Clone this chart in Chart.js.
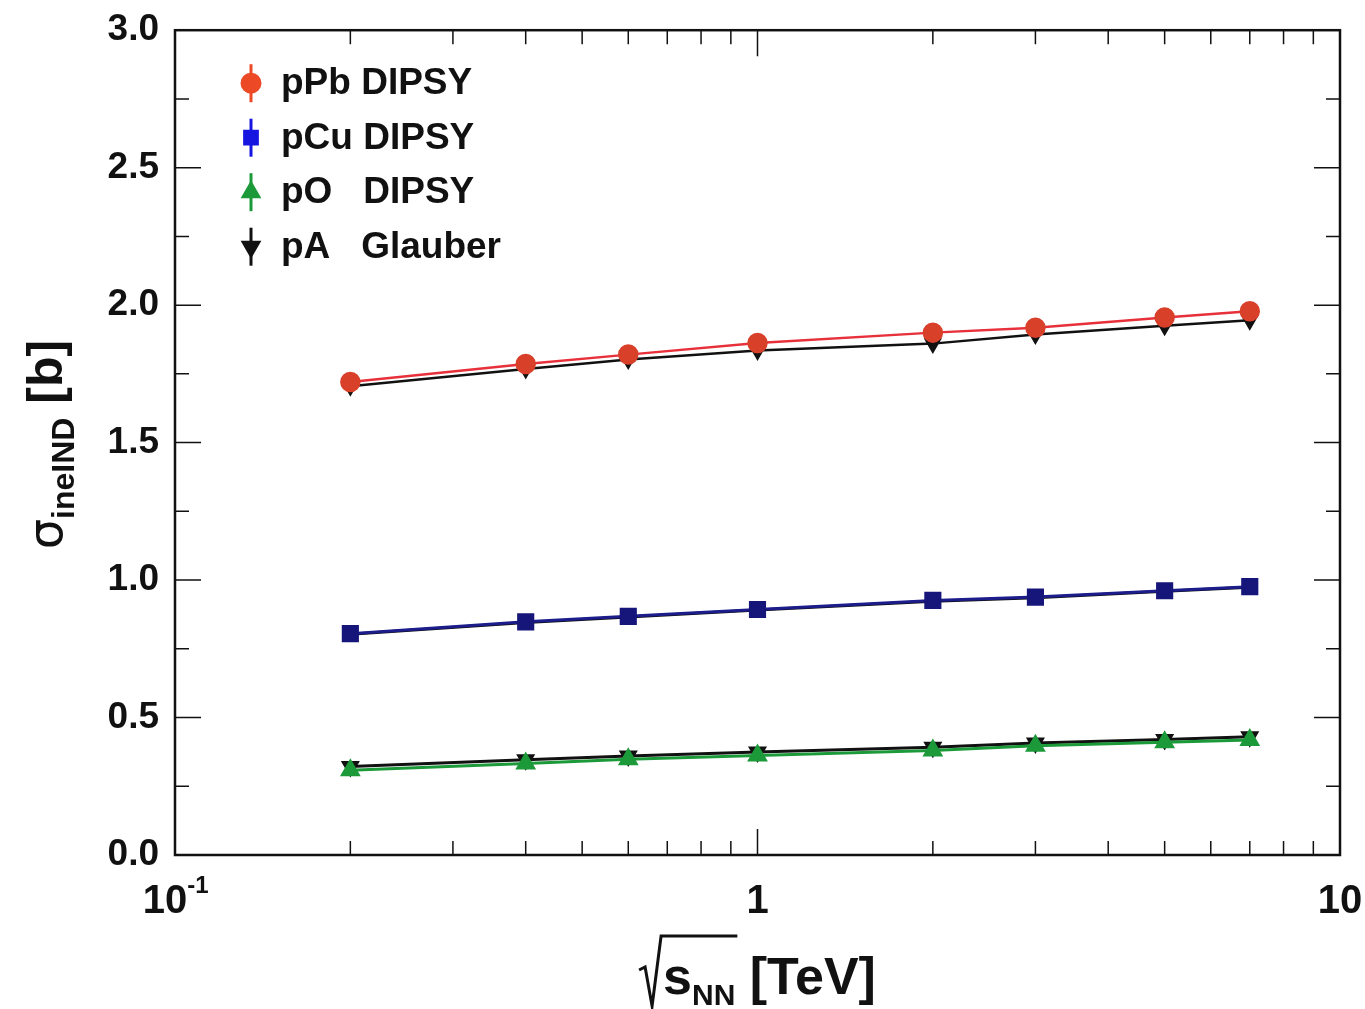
<!DOCTYPE html>
<html>
<head>
<meta charset="utf-8">
<title>Inelastic non-diffractive pA cross section</title>
<script src="https://cdn.jsdelivr.net/npm/chart.js@4.4.0/dist/chart.umd.min.js"></script>
<style>
  body { margin: 0; background: #fff; }
  #wrap { width: 1365px; height: 1009px; }
</style>
</head>
<body>
<div id="wrap"><canvas id="sigmaChart" width="1365" height="1009"></canvas></div>
<script>
// collision energies sqrt(s_NN) in TeV
const energias = [0.2, 0.4, 0.6, 1, 2, 3, 5, 7];

// DIPSY results [b]
const pPbDipsy = [1.72, 1.786, 1.82, 1.862, 1.90, 1.918, 1.955, 1.978];
const pCuDipsy = [0.805, 0.848, 0.868, 0.893, 0.926, 0.938, 0.961, 0.976];
const pODipsy  = [0.308, 0.333, 0.348, 0.362, 0.38, 0.397, 0.41, 0.418];

// Glauber results [b]
const pPbGlauber = [1.705, 1.768, 1.802, 1.835, 1.86, 1.893, 1.925, 1.945];
const pCuGlauber = [0.803, 0.846, 0.866, 0.891, 0.923, 0.936, 0.959, 0.974];
const pOGlauber  = [0.322, 0.346, 0.36, 0.375, 0.392, 0.407, 0.42, 0.43];

// axis ticks
const xEtiquetas = [0.1, 1, 10];
const xMenores = [0.2, 0.3, 0.4, 0.5, 0.6, 0.7, 0.8, 0.9, 2, 3, 4, 5, 6, 7, 8, 9];
const yMayores = [0, 0.5, 1.0, 1.5, 2.0, 2.5, 3.0];
const yMenores = [0.25, 0.75, 1.25, 1.75, 2.25, 2.75];

const FUENTE = '"Liberation Sans", Arial, sans-serif';

const rojo = '#ec4a26';
const azul = '#1616e0';
const azulOscuro = '#16167a';
const verde = '#1c9a3a';

function puntos(valores) {
    return energias.map((e, i) => ({ x: e, y: valores[i] }));
}

function serie(label, valores, color, linea, estilo, radio, rot, ancho) {
    return {
        label: label,
        data: puntos(valores),
        borderColor: linea,
        backgroundColor: color,
        pointBackgroundColor: color,
        pointBorderColor: color,
        pointStyle: estilo,
        pointRadius: radio,
        pointRotation: rot || 0,
        borderWidth: ancho,
        tension: 0
    };
}

const datasets = [
    serie('pPb DIPSY', pPbDipsy, '#d8402a', '#e8303a', 'circle', 9, 0, 2.5),
    serie('pCu DIPSY', pCuDipsy, azulOscuro, '#1c1c8a', 'rect', 10, 0, 3),
    serie('pO DIPSY', pODipsy, verde, verde, 'triangle', 9, 0, 3),
    serie('pA Glauber', pPbGlauber, '#111', '#111', 'triangle', 8, 180, 2.5),
    serie('pA Glauber', pCuGlauber, '#111', '#111', 'triangle', 0, 180, 3),
    serie('pA Glauber', pOGlauber, '#111', '#111', 'triangle', 8, 180, 3)
];

// legend entries drawn inside the frame
const leyenda = [
    { texto: 'pPb DIPSY', color: rojo, estilo: 'circle', rot: 0 },
    { texto: 'pCu DIPSY', color: azul, estilo: 'rect', rot: 0 },
    { texto: 'pO   DIPSY', color: verde, estilo: 'triangle', rot: 0 },
    { texto: 'pA   Glauber', color: '#111', estilo: 'triangle', rot: 180 }
];

// frame with inward ticks on all four sides, ROOT style
const marcoPlugin = {
    id: 'marco',
    afterDatasetsDraw(chart) {
        const { ctx, chartArea: a, scales } = chart;
        const xs = scales.x, ys = scales.y;
        ctx.save();
        ctx.strokeStyle = '#111';
        ctx.lineWidth = 1.5;
        ctx.beginPath();
        yMayores.forEach(v => {
            const p = ys.getPixelForValue(v);
            ctx.moveTo(a.left, p); ctx.lineTo(a.left + 26, p);
            ctx.moveTo(a.right, p); ctx.lineTo(a.right - 26, p);
        });
        yMenores.forEach(v => {
            const p = ys.getPixelForValue(v);
            ctx.moveTo(a.left, p); ctx.lineTo(a.left + 14, p);
            ctx.moveTo(a.right, p); ctx.lineTo(a.right - 14, p);
        });
        xEtiquetas.forEach(v => {
            const p = xs.getPixelForValue(v);
            ctx.moveTo(p, a.bottom); ctx.lineTo(p, a.bottom - 26);
            ctx.moveTo(p, a.top); ctx.lineTo(p, a.top + 26);
        });
        xMenores.forEach(v => {
            const p = xs.getPixelForValue(v);
            ctx.moveTo(p, a.bottom); ctx.lineTo(p, a.bottom - 14);
            ctx.moveTo(p, a.top); ctx.lineTo(p, a.top + 14);
        });
        ctx.stroke();
        ctx.lineWidth = 2.5;
        ctx.strokeRect(a.left, a.top, a.right - a.left, a.bottom - a.top);
        ctx.restore();
    }
};

const leyendaPlugin = {
    id: 'leyendaInterna',
    afterDraw(chart) {
        const { ctx, chartArea: a } = chart;
        ctx.save();
        leyenda.forEach((item, i) => {
            const mx = a.left + 76;
            const my = a.top + 53 + i * 54.5;
            // vertical error bar
            ctx.strokeStyle = item.color;
            ctx.lineWidth = 3;
            ctx.beginPath();
            ctx.moveTo(mx, my - 19);
            ctx.lineTo(mx, my + 19);
            ctx.stroke();
            ctx.fillStyle = item.color;
            ctx.strokeStyle = item.color;
            Chart.helpers.drawPoint(ctx, {
                pointStyle: item.estilo, radius: 9, rotation: item.rot, borderWidth: 1
            }, mx, my);
            ctx.fillStyle = '#111';
            ctx.font = 'bold 37px ' + FUENTE;
            ctx.textBaseline = 'middle';
            ctx.textAlign = 'left';
            ctx.fillText(item.texto, a.left + 106, my + 1);
        });
        ctx.restore();
    }
};

// x tick labels and both axis titles
const ejesPlugin = {
    id: 'ejes',
    afterDraw(chart) {
        const { ctx, chartArea: a, scales } = chart;
        const xs = scales.x;
        ctx.save();
        ctx.fillStyle = '#111';
        ctx.textBaseline = 'alphabetic';

        // 10^-1, 1, 10
        const yb = a.bottom + 58;
        ctx.font = 'bold 40px ' + FUENTE;
        ctx.textAlign = 'center';
        const p0 = xs.getPixelForValue(xEtiquetas[0]);
        const w10 = ctx.measureText('10').width;
        ctx.fillText('10', p0 - 10, yb);
        ctx.font = 'bold 24px ' + FUENTE;
        ctx.textAlign = 'left';
        ctx.fillText('-1', p0 - 10 + w10 / 2, yb - 20);
        ctx.font = 'bold 40px ' + FUENTE;
        ctx.textAlign = 'center';
        ctx.fillText('1', xs.getPixelForValue(xEtiquetas[1]), yb);
        ctx.fillText('10', xs.getPixelForValue(xEtiquetas[2]), yb);

        // x title: sqrt(s_NN) [TeV]
        const fGrande = 'bold 52px ' + FUENTE;
        const fSub = 'bold 30px ' + FUENTE;
        ctx.font = fGrande;
        const ws = ctx.measureText('s').width;
        const wRest = ctx.measureText(' [TeV]').width;
        ctx.font = fSub;
        const wNN = ctx.measureText('NN').width;
        const raiz = 24;
        const total = raiz + ws + wNN + wRest;
        let x = (a.left + a.right) / 2 - total / 2;
        const base = 994;
        ctx.strokeStyle = '#111';
        ctx.lineWidth = 3;
        ctx.beginPath();
        ctx.moveTo(x, base - 24);
        ctx.lineTo(x + 6, base - 27);
        ctx.lineTo(x + 13, base + 12);
        ctx.lineTo(x + 22, base - 58);
        ctx.lineTo(x + raiz + ws + wNN + 2, base - 58);
        ctx.stroke();
        x += raiz;
        ctx.textAlign = 'left';
        ctx.font = fGrande;
        ctx.fillText('s', x, base);
        x += ws;
        ctx.font = fSub;
        ctx.fillText('NN', x, base + 11);
        x += wNN;
        ctx.font = fGrande;
        ctx.fillText(' [TeV]', x, base);

        // y title: sigma_ineIND [b]
        ctx.translate(62, (a.top + a.bottom) / 2 + 2);
        ctx.rotate(-Math.PI / 2);
        const fSig = '48px "DejaVu Sans", sans-serif';
        const fSubY = 'bold 32px ' + FUENTE;
        const fB = 'bold 50px ' + FUENTE;
        ctx.font = fSig;
        const wSig = ctx.measureText('σ').width;
        ctx.font = fSubY;
        const wSubY = ctx.measureText('ineIND').width;
        ctx.font = fB;
        const wB = ctx.measureText(' [b]').width;
        let yx = -(wSig + wSubY + wB) / 2;
        ctx.font = fSig;
        ctx.fillText('σ', yx, 0);
        yx += wSig;
        ctx.font = fSubY;
        ctx.fillText('ineIND', yx, 12);
        yx += wSubY;
        ctx.font = fB;
        ctx.fillText(' [b]', yx, 0);
        ctx.restore();
    }
};

new Chart(document.getElementById('sigmaChart').getContext('2d'), {
    type: 'line',
    data: { datasets: datasets },
    options: {
        responsive: false,
        animation: false,
        layout: { padding: { left: 0, top: 27, right: 25, bottom: 0 } },
        plugins: {
            legend: { display: false },
            tooltip: { enabled: false }
        },
        scales: {
            x: {
                type: 'logarithmic',
                min: 0.1,
                max: 10,
                grid: { display: false },
                border: { display: false },
                ticks: { display: false },
                afterFit: s => { s.height = 154; }
            },
            y: {
                type: 'linear',
                min: 0,
                max: 3,
                grid: { display: false },
                border: { display: false },
                afterBuildTicks: s => { s.ticks = yMayores.map(v => ({ value: v })); },
                afterFit: s => { s.width = 175; },
                ticks: {
                    padding: 8,
                    color: '#111',
                    font: { family: FUENTE, size: 37, weight: 'bold' },
                    callback: v => Number(v).toFixed(1)
                }
            }
        }
    },
    plugins: [marcoPlugin, leyendaPlugin, ejesPlugin]
});
</script>
</body>
</html>
